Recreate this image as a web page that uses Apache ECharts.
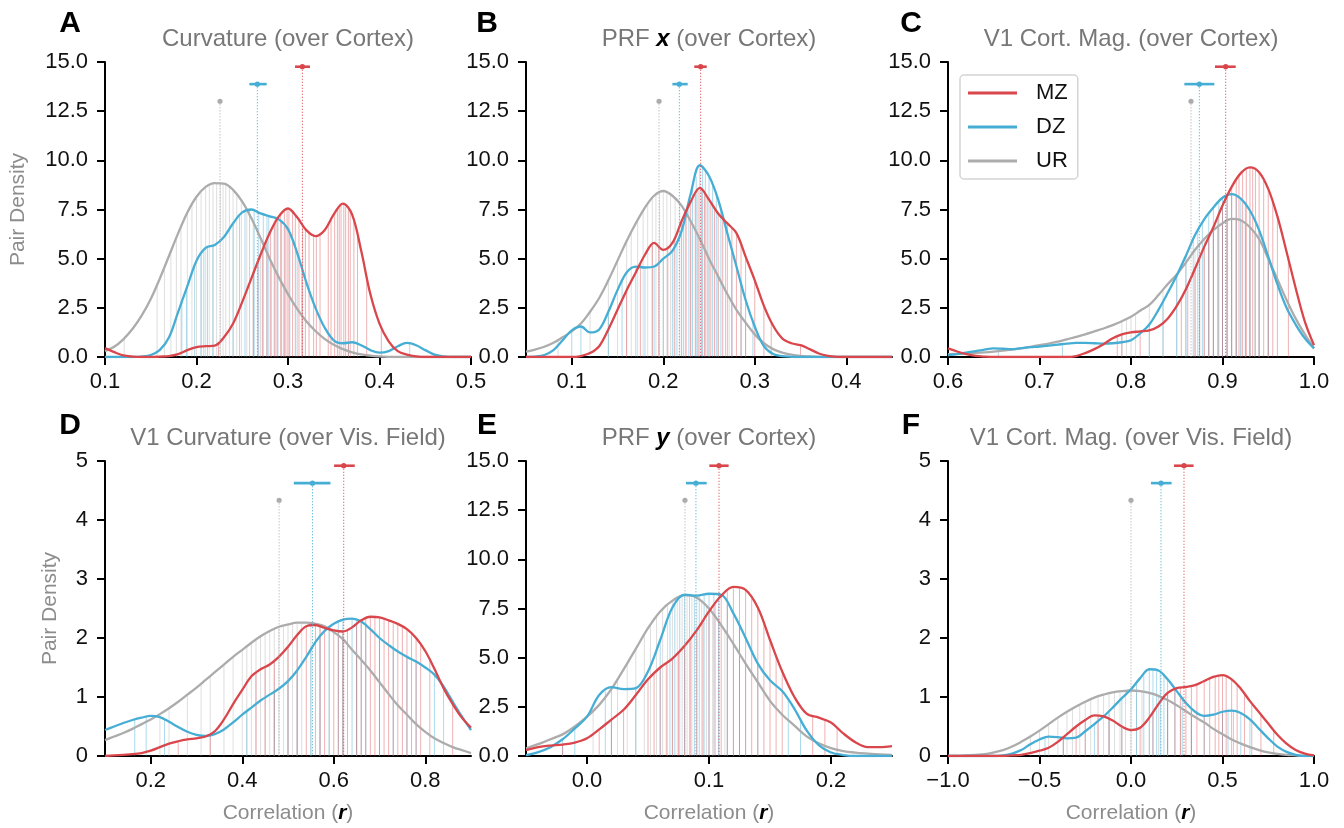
<!DOCTYPE html>
<html><head><meta charset="utf-8">
<script src="https://cdn.jsdelivr.net/npm/echarts@6/dist/echarts.min.js"></script>
<style>html,body{margin:0;padding:0;background:#fff}#c{width:1344px;height:828px}</style>
</head><body><div id="c"></div>
<script>
// ---------------- DATA ----------------
const groups = ['MZ', 'DZ', 'UR'];

// Panel A: Curvature (over Cortex)
const A_x = [0.10,0.11,0.12,0.13,0.14,0.15,0.16,0.17,0.18,0.19,0.20,0.21,0.22,0.23,0.24,0.25,0.26,0.27,0.28,0.29,0.30,0.31,0.32,0.33,0.34,0.35,0.36,0.37,0.38,0.39,0.40,0.41,0.42,0.43,0.44,0.45,0.46,0.47,0.48,0.49,0.50];
const A_MZ = [0.45,0.25,0.08,0.02,0,0,0.02,0.05,0.15,0.35,0.5,0.55,0.58,1.0,1.7,2.8,4.0,5.2,6.3,7.15,7.55,7.1,6.45,6.15,6.45,7.25,7.8,7.25,5.4,3.2,1.7,0.8,0.3,0.12,0.03,0,0,0,0,0,0];
const A_DZ = [0,0,0,0,0.02,0.1,0.36,1.0,2.3,3.6,4.9,5.55,5.7,6.1,6.8,7.35,7.5,7.3,7.15,7.0,6.5,5.3,3.8,2.5,1.5,0.85,0.7,0.75,0.6,0.35,0.22,0.3,0.55,0.72,0.6,0.35,0.12,0.03,0,0,0];
const A_UR = [0.3,0.52,0.9,1.42,2.1,2.95,4.0,5.15,6.3,7.35,8.15,8.65,8.84,8.82,8.5,7.9,7.05,6.05,5.0,4.05,3.2,2.45,1.82,1.32,0.92,0.62,0.4,0.24,0.13,0.07,0.03,0.01,0,0,0,0,0,0,0,0,0];
const A_rugMZ = [0.224,0.262,0.267,0.272,0.277,0.281,0.285,0.288,0.292,0.296,0.299,0.301,0.305,0.308,0.312,0.316,0.319,0.323,0.328,0.331,0.335,0.344,0.347,0.351,0.354,0.356,0.358,0.361,0.363,0.366,0.368,0.372,0.376,0.386,0.402];
const A_rugDZ = [0.184,0.189,0.198,0.205,0.208,0.212,0.218,0.240,0.247,0.253,0.258,0.263,0.268,0.273,0.277,0.279,0.286,0.289,0.293,0.297,0.302,0.310,0.315,0.366,0.433];
const A_rugUR = [0.121,0.157,0.165,0.172,0.178,0.183,0.190,0.195,0.200,0.205,0.210,0.214,0.218,0.222,0.226,0.229,0.232,0.236,0.240,0.244,0.249,0.255,0.262,0.270,0.282,0.295];
const A_means = [[0.3157,0.3077,0.3240],[0.2665,0.2578,0.2767],[0.2257,0.2257,0.2257]];
const A_ticks = [0.1,0.2,0.3,0.4,0.5];

// Panel B: PRF x (over Cortex)
const B_x = [0.05,0.06,0.07,0.08,0.09,0.10,0.11,0.12,0.13,0.14,0.15,0.16,0.17,0.18,0.19,0.20,0.21,0.22,0.23,0.24,0.25,0.26,0.27,0.28,0.29,0.30,0.31,0.32,0.33,0.34,0.35,0.36,0.37,0.38,0.39,0.40,0.41,0.42,0.43,0.44,0.45];
const B_MZ = [0,0,0,0,0,0,0.05,0.2,0.55,1.4,2.4,3.4,4.3,5.2,5.8,5.45,5.8,6.9,7.9,8.6,8.0,7.3,6.8,6.3,5.1,3.9,2.6,1.6,0.95,0.7,0.6,0.4,0.18,0.06,0.01,0,0,0,0,0,0];
const B_DZ = [0,0.02,0.1,0.35,0.85,1.35,1.55,1.25,1.4,2.3,3.4,4.3,4.6,4.55,4.6,5.0,5.4,6.4,8.3,9.75,9.2,8.0,6.3,4.6,2.9,1.55,0.55,0.15,0.04,0.01,0,0,0,0,0,0,0,0,0,0,0];
const B_UR = [0.27,0.38,0.52,0.72,1.0,1.3,1.7,2.3,3.0,3.9,4.9,5.9,6.8,7.6,8.2,8.44,8.2,7.7,6.9,6.0,5.0,4.1,3.2,2.4,1.75,1.15,0.7,0.4,0.22,0.12,0.06,0.03,0.01,0,0,0,0,0,0,0,0];
const B_rugMZ = [0.160,0.175,0.188,0.195,0.205,0.212,0.220,0.225,0.230,0.235,0.238,0.242,0.245,0.248,0.252,0.256,0.260,0.265,0.270,0.275,0.280,0.285,0.290,0.300,0.310,0.318,0.350];
const B_rugDZ = [0.100,0.110,0.140,0.155,0.170,0.180,0.190,0.200,0.210,0.215,0.222,0.228,0.232,0.236,0.240,0.243,0.246,0.250,0.254,0.258,0.263,0.268,0.275,0.285,0.298];
const B_rugUR = [0.085,0.120,0.140,0.150,0.160,0.165,0.172,0.178,0.183,0.188,0.192,0.196,0.200,0.204,0.208,0.213,0.218,0.224,0.230,0.238,0.250,0.260,0.272,0.290];
const B_means = [[0.2409,0.2339,0.2475],[0.2176,0.2100,0.2267],[0.1954,0.1954,0.1954]];
const B_ticks = [0.1,0.2,0.3,0.4];

// Panel C: V1 Cort. Mag. (over Cortex)
const C_x = [0.60,0.61,0.62,0.63,0.64,0.65,0.66,0.67,0.68,0.69,0.70,0.71,0.72,0.73,0.74,0.75,0.76,0.77,0.78,0.79,0.80,0.81,0.82,0.83,0.84,0.85,0.86,0.87,0.88,0.89,0.90,0.91,0.92,0.93,0.94,0.95,0.96,0.97,0.98,0.99,1.00];
const C_MZ = [0.44,0.28,0.15,0.06,0.02,0,0,0,0,0,0,0,0,0,0.05,0.2,0.4,0.65,0.95,1.15,1.25,1.3,1.35,1.55,1.95,2.6,3.45,4.5,5.6,6.6,7.7,8.65,9.35,9.64,9.4,8.55,7.15,5.35,3.5,1.8,0.6];
const C_DZ = [0.1,0.15,0.22,0.3,0.38,0.44,0.42,0.4,0.45,0.5,0.53,0.58,0.63,0.68,0.72,0.72,0.7,0.68,0.7,0.75,0.85,1.2,1.65,2.4,3.25,4.15,5.15,6.2,7.0,7.6,8.1,8.28,8.05,7.45,6.45,5.1,3.7,2.5,1.65,0.95,0.44];
const C_UR = [0.15,0.16,0.18,0.2,0.23,0.27,0.32,0.38,0.44,0.52,0.6,0.68,0.78,0.9,1.02,1.15,1.3,1.45,1.62,1.82,2.05,2.35,2.65,3.15,3.7,4.2,4.8,5.45,6.0,6.45,6.8,7.02,6.95,6.6,6.0,5.0,3.95,2.9,1.95,1.15,0.44];
const C_rugMZ = [0.785,0.790,0.810,0.855,0.862,0.870,0.875,0.880,0.885,0.890,0.895,0.900,0.905,0.910,0.915,0.918,0.922,0.926,0.930,0.933,0.936,0.940,0.945,0.950,0.955,0.960,0.972];
const C_rugDZ = [0.655,0.725,0.820,0.835,0.850,0.860,0.868,0.873,0.878,0.885,0.890,0.896,0.900,0.905,0.910,0.915,0.920,0.925,0.930,0.940,0.950];
const C_rugUR = [0.790,0.795,0.800,0.805,0.820,0.835,0.850,0.860,0.870,0.875,0.880,0.885,0.890,0.895,0.900,0.905,0.910,0.915,0.920,0.925,0.930,0.935,0.940,0.950];
const C_means = [[0.9035,0.8918,0.9144],[0.8747,0.8583,0.8911],[0.8656,0.8656,0.8656]];
const C_ticks = [0.6,0.7,0.8,0.9,1.0];

// Panel D: V1 Curvature (over Vis. Field)
const D_x = [0.10,0.12,0.14,0.16,0.18,0.20,0.22,0.24,0.26,0.28,0.30,0.32,0.34,0.36,0.38,0.40,0.42,0.44,0.46,0.48,0.50,0.52,0.54,0.56,0.58,0.60,0.62,0.64,0.66,0.68,0.70,0.72,0.74,0.76,0.78,0.80,0.82,0.84,0.86,0.88,0.90];
const D_MZ = [0,0.01,0.02,0.03,0.05,0.09,0.15,0.21,0.25,0.28,0.3,0.33,0.42,0.62,0.88,1.12,1.35,1.47,1.55,1.68,1.85,2.05,2.2,2.22,2.17,2.13,2.11,2.18,2.3,2.36,2.35,2.3,2.24,2.15,2.0,1.78,1.48,1.15,0.88,0.65,0.48];
const D_DZ = [0.44,0.5,0.56,0.61,0.65,0.68,0.66,0.58,0.49,0.41,0.36,0.34,0.37,0.45,0.57,0.7,0.82,0.94,1.04,1.14,1.27,1.45,1.68,1.93,2.12,2.24,2.31,2.33,2.28,2.15,2.0,1.88,1.77,1.68,1.6,1.5,1.38,1.18,0.92,0.67,0.44];
const D_UR = [0.27,0.33,0.39,0.46,0.54,0.62,0.71,0.81,0.92,1.04,1.16,1.29,1.42,1.55,1.68,1.8,1.92,2.03,2.12,2.19,2.23,2.26,2.26,2.24,2.2,2.1,1.98,1.8,1.63,1.45,1.25,1.05,0.86,0.7,0.54,0.41,0.3,0.22,0.15,0.1,0.05];
const D_rugMZ = [0.26,0.33,0.43,0.45,0.47,0.50,0.52,0.54,0.56,0.57,0.58,0.60,0.61,0.62,0.63,0.65,0.66,0.67,0.68,0.69,0.70,0.71,0.72,0.73,0.74,0.75,0.76,0.77,0.78,0.79,0.81,0.86];
const D_rugDZ = [0.165,0.19,0.23,0.41,0.47,0.50,0.52,0.55,0.57,0.59,0.61,0.62,0.64,0.65,0.66,0.67,0.70,0.73,0.76,0.78,0.82,0.84];
const D_rugUR = [0.22,0.24,0.28,0.31,0.33,0.36,0.38,0.40,0.41,0.42,0.43,0.44,0.45,0.46,0.47,0.48,0.49,0.50,0.51,0.52,0.53,0.55,0.57,0.59,0.62,0.65];
const D_means = [[0.6218,0.6007,0.6459],[0.5535,0.5127,0.5928],[0.4806,0.4806,0.4806]];
const D_ticks = [0.2,0.4,0.6,0.8];

// Panel E: PRF y (over Cortex)
const E_x = [-0.05,-0.04,-0.03,-0.02,-0.01,0.00,0.01,0.02,0.03,0.04,0.05,0.06,0.07,0.08,0.09,0.10,0.11,0.12,0.13,0.14,0.15,0.16,0.17,0.18,0.19,0.20,0.21,0.22,0.23,0.24,0.25];
const E_MZ = [0.3,0.45,0.53,0.58,0.68,0.9,1.35,1.85,2.35,3.1,3.9,4.5,4.95,5.6,6.4,7.35,8.15,8.6,8.45,7.55,5.9,4.3,3.0,2.15,1.95,1.7,1.15,0.7,0.45,0.45,0.5];
const E_DZ = [0.05,0.2,0.45,0.85,1.4,2.0,3.1,3.5,3.4,3.45,4.3,5.9,7.55,8.2,8.15,8.25,8.2,7.25,6.0,4.7,3.85,3.3,2.4,1.3,0.55,0.18,0.05,0,0,0,0];
const E_UR = [0.39,0.6,0.85,1.1,1.5,2.0,2.6,3.4,4.4,5.45,6.5,7.35,7.9,8.18,8.05,7.5,6.65,5.7,4.7,3.75,2.8,2.1,1.55,1.0,0.65,0.4,0.25,0.17,0.12,0.08,0.06];
const E_rugMZ = [-0.02,0.01,0.02,0.03,0.05,0.055,0.06,0.065,0.07,0.075,0.08,0.085,0.09,0.095,0.10,0.105,0.11,0.115,0.12,0.125,0.13,0.135,0.14,0.145,0.15,0.155,0.16,0.185,0.195,0.205];
const E_rugDZ = [-0.02,-0.01,0.015,0.02,0.04,0.06,0.068,0.072,0.076,0.08,0.084,0.088,0.092,0.096,0.10,0.104,0.108,0.115,0.125,0.14,0.165,0.175];
const E_rugUR = [0.005,0.025,0.033,0.04,0.047,0.052,0.057,0.062,0.066,0.07,0.074,0.078,0.082,0.086,0.09,0.094,0.098,0.103,0.108,0.113,0.12,0.13];
const E_means = [[0.1082,0.1003,0.1161],[0.0893,0.0811,0.0981],[0.0803,0.0803,0.0803]];
const E_ticks = [0.0,0.1,0.2];

// Panel F: V1 Cort. Mag. (over Vis. Field)
const F_x = [-1.0,-0.95,-0.9,-0.85,-0.8,-0.75,-0.7,-0.65,-0.6,-0.55,-0.5,-0.45,-0.4,-0.35,-0.3,-0.25,-0.2,-0.15,-0.1,-0.05,0.0,0.05,0.1,0.15,0.2,0.25,0.3,0.35,0.4,0.45,0.5,0.55,0.6,0.65,0.7,0.75,0.8,0.85,0.9,0.95,1.0];
const F_MZ = [0,0,0,0,0,0,0,0.01,0.02,0.05,0.09,0.14,0.24,0.37,0.5,0.61,0.69,0.67,0.6,0.5,0.44,0.48,0.65,0.88,1.07,1.15,1.17,1.2,1.27,1.34,1.37,1.3,1.14,0.93,0.74,0.55,0.36,0.21,0.1,0.04,0.01];
const F_DZ = [0,0,0,0,0,0,0.01,0.04,0.1,0.2,0.28,0.33,0.32,0.3,0.31,0.42,0.54,0.67,0.82,0.98,1.13,1.32,1.47,1.45,1.3,1.1,0.9,0.75,0.68,0.7,0.75,0.77,0.73,0.62,0.46,0.3,0.16,0.07,0.02,0,0];
const F_UR = [0,0,0.01,0.02,0.03,0.06,0.1,0.16,0.24,0.33,0.43,0.54,0.65,0.75,0.84,0.92,0.99,1.04,1.08,1.1,1.11,1.1,1.07,1.02,0.95,0.86,0.76,0.66,0.57,0.46,0.37,0.28,0.21,0.15,0.1,0.06,0.035,0.02,0.01,0,0];
const F_rugMZ = [-0.37,-0.30,-0.25,-0.18,-0.12,-0.05,0.05,0.12,0.20,0.24,0.27,0.30,0.33,0.36,0.40,0.43,0.46,0.48,0.50,0.52,0.55,0.58,0.62,0.66,0.71,0.78];
const F_rugDZ = [-0.47,-0.37,-0.20,-0.12,-0.05,0.03,0.07,0.10,0.12,0.14,0.16,0.18,0.20,0.24,0.28,0.33,0.40,0.50,0.53,0.56,0.60,0.65];
const F_rugUR = [-0.55,-0.50,-0.45,-0.40,-0.35,-0.32,-0.28,-0.25,-0.22,-0.18,-0.15,-0.12,-0.09,-0.06,-0.03,0.0,0.03,0.06,0.10,0.15,0.20,0.27,0.33];
const F_means = [[0.2896,0.235,0.342],[0.164,0.109,0.222],[0.0,0.0,0.0]];
const F_ticks = [-1.0,-0.5,0.0,0.5,1.0];

const titles = [
  {letter:'A', parts:[['n','Curvature (over Cortex)']]},
  {letter:'B', parts:[['n','PRF '],['b','x'],['n',' (over Cortex)']]},
  {letter:'C', parts:[['n','V1 Cort. Mag. (over Cortex)']]},
  {letter:'D', parts:[['n','V1 Curvature (over Vis. Field)']]},
  {letter:'E', parts:[['n','PRF '],['b','y'],['n',' (over Cortex)']]},
  {letter:'F', parts:[['n','V1 Cort. Mag. (over Vis. Field)']]}
];

// ---------------- STYLE / LAYOUT ----------------
const FONT = '"Liberation Sans", Arial, Helvetica, sans-serif';
const COL = {MZ:'#d9464b', DZ:'#46aed4', UR:'#acacac'};
const RUGCOL = {MZ:'rgba(217,70,75,0.42)', DZ:'rgba(70,174,212,0.45)', UR:'rgba(172,172,172,0.4)'};
const MARK_FRAC = {MZ:0.984, DZ:0.925, UR:0.867};
const LEFTS = [105, 526, 948], TOPS = [62, 461], W = 366, H = 295;

const panels = [
  {x:A_x, y:{MZ:A_MZ,DZ:A_DZ,UR:A_UR}, rug:{MZ:A_rugMZ,DZ:A_rugDZ,UR:A_rugUR}, means:A_means, ticks:A_ticks, ymax:15},
  {x:B_x, y:{MZ:B_MZ,DZ:B_DZ,UR:B_UR}, rug:{MZ:B_rugMZ,DZ:B_rugDZ,UR:B_rugUR}, means:B_means, ticks:B_ticks, ymax:15},
  {x:C_x, y:{MZ:C_MZ,DZ:C_DZ,UR:C_UR}, rug:{MZ:C_rugMZ,DZ:C_rugDZ,UR:C_rugUR}, means:C_means, ticks:C_ticks, ymax:15},
  {x:D_x, y:{MZ:D_MZ,DZ:D_DZ,UR:D_UR}, rug:{MZ:D_rugMZ,DZ:D_rugDZ,UR:D_rugUR}, means:D_means, ticks:D_ticks, ymax:5},
  {x:E_x, y:{MZ:E_MZ,DZ:E_DZ,UR:E_UR}, rug:{MZ:E_rugMZ,DZ:E_rugDZ,UR:E_rugUR}, means:E_means, ticks:E_ticks, ymax:15},
  {x:F_x, y:{MZ:F_MZ,DZ:F_DZ,UR:F_UR}, rug:{MZ:F_rugMZ,DZ:F_rugDZ,UR:F_rugUR}, means:F_means, ticks:F_ticks, ymax:5}
];

function curveAt(xs, ys, v) {
  for (let i = 0; i < xs.length - 1; i++) {
    if (v >= xs[i] && v <= xs[i+1]) {
      const t = (v - xs[i]) / (xs[i+1] - xs[i]);
      return ys[i] + t * (ys[i+1] - ys[i]);
    }
  }
  return 0;
}
function fmtX(v) {
  const s = Math.abs(v).toFixed(1);
  return v < -1e-9 ? '\u2212' + s : s;
}

const grid = [], xAxis = [], yAxis = [], series = [], title = [];
const richN = {fontSize:24, color:'#777', fontWeight:'normal', fontFamily:FONT};
const richB = {fontSize:24, color:'#000', fontWeight:'bold', fontStyle:'italic', fontFamily:FONT};

panels.forEach((p, i) => {
  const row = Math.floor(i / 3), col = i % 3;
  const left = LEFTS[col], top = TOPS[row];
  grid.push({left:left, top:top, width:W, height:H, containLabel:false});
  const xa = {
    gridIndex:i, type:'value', min:p.x[0], max:p.x[p.x.length-1],
    axisLine:{show:true, onZero:false, lineStyle:{color:'#000', width:2}},
    axisTick:{show:true, length:8, customValues:p.ticks, lineStyle:{color:'#000', width:2}},
    axisLabel:{show:true, customValues:p.ticks, formatter:fmtX, fontSize:22, color:'#111', fontFamily:FONT, margin:14},
    splitLine:{show:false}
  };
  if (row === 1) {
    xa.name = '{n|Correlation (}{b|r}{n|)}';
    xa.nameLocation = 'middle';
    xa.nameGap = 47;
    xa.nameTextStyle = {rich:{n:{fontSize:21, color:'#8c8c8c', fontWeight:'normal', fontFamily:FONT}, b:{fontSize:21, color:'#000', fontWeight:'bold', fontStyle:'italic', fontFamily:FONT}}};
  }
  xAxis.push(xa);
  const ya = {
    gridIndex:i, type:'value', min:0, max:p.ymax, interval:(p.ymax === 15 ? 2.5 : 1),
    axisLine:{show:true, onZero:false, lineStyle:{color:'#000', width:2}},
    axisTick:{show:true, length:8, lineStyle:{color:'#000', width:2}},
    axisLabel:{show:true, fontSize:22, color:'#111', fontFamily:FONT, margin:17,
      formatter:(v) => p.ymax === 15 ? v.toFixed(1) : String(Math.round(v))},
    splitLine:{show:false}
  };
  if (col === 0) {
    ya.name = 'Pair Density';
    ya.nameLocation = 'middle';
    ya.nameGap = (row === 0 ? 76 : 44);
    ya.nameTextStyle = {fontSize:21, color:'#8c8c8c', fontWeight:'normal', fontFamily:FONT};
  }
  yAxis.push(ya);

  // rug lines (under curves)
  ['UR','DZ','MZ'].forEach(g => {
    const data = p.rug[g].map(v => [v, curveAt(p.x, p.y[g], v)]);
    series.push({
      type:'custom', name:g + ' rug', xAxisIndex:i, yAxisIndex:i, z:1, clip:true, silent:true,
      encode:{x:0, y:1},
      data:data,
      renderItem:(params, api) => {
        const a = api.coord([api.value(0), 0]);
        const b = api.coord([api.value(0), api.value(1)]);
        return {type:'line', shape:{x1:a[0], y1:a[1], x2:b[0], y2:b[1]}, style:{stroke:RUGCOL[g], lineWidth:1}};
      }
    });
  });
  // KDE curves
  ['UR','DZ','MZ'].forEach(g => {
    series.push({
      type:'line', name:g, xAxisIndex:i, yAxisIndex:i, z:3,
      data:p.x.map((v, k) => [v, p.y[g][k]]),
      smooth:0.35, showSymbol:false, symbol:'none', silent:true,
      color:COL[g],
      itemStyle:{color:COL[g]},
      lineStyle:{color:COL[g], width:2.3}
    });
  });
  // mean markers with CI
  ['UR','DZ','MZ'].forEach(g => {
    const m = p.means[groups.indexOf(g)];
    const h = MARK_FRAC[g] * p.ymax;
    series.push({
      type:'custom', name:g + ' mean', xAxisIndex:i, yAxisIndex:i, z:4, clip:false, silent:true,
      encode:{x:[0,1,2], y:3},
      data:[[m[0], m[1], m[2], h]],
      renderItem:(params, api) => {
        const pm = api.coord([api.value(0), api.value(3)]);
        const p0 = api.coord([api.value(0), 0]);
        const pl = api.coord([api.value(1), api.value(3)]);
        const ph = api.coord([api.value(2), api.value(3)]);
        return {type:'group', children:[
          {type:'line', shape:{x1:pm[0], y1:pm[1], x2:p0[0], y2:p0[1]}, style:{stroke:COL[g], lineWidth:1, lineDash:[1.2,1.8], opacity:0.9}},
          {type:'line', shape:{x1:pl[0], y1:pl[1], x2:ph[0], y2:ph[1]}, style:{stroke:COL[g], lineWidth:2.6}},
          {type:'circle', shape:{cx:pm[0], cy:pm[1], r:2.6}, style:{fill:COL[g]}}
        ]};
      }
    });
  });

  // titles
  const t = titles[i];
  title.push({
    text:'{L|' + t.letter + '}', left:[70, 487, 911][col], top:(row === 0 ? 24 : 426),
    textAlign:'center', textVerticalAlign:'middle', padding:0,
    textStyle:{rich:{L:{fontSize:30, fontWeight:'bold', color:'#000', fontFamily:FONT}}}
  });
  title.push({
    text:t.parts.map(pp => '{' + pp[0] + '|' + pp[1] + '}').join(''),
    left:left + W / 2, top:(row === 0 ? 39 : 438),
    textAlign:'center', textVerticalAlign:'middle', padding:0,
    textStyle:{fontWeight:'normal', rich:{n:richN, b:richB}}
  });
});

const chart = echarts.init(document.getElementById('c'), null, {renderer:'canvas'});
chart.setOption({
  backgroundColor:'#fff',
  animation:false,
  title:title,
  grid:grid, xAxis:xAxis, yAxis:yAxis,
  legend:{
    data:[{name:'MZ'},{name:'DZ'},{name:'UR'}],
    left:960, top:75, orient:'vertical', icon:'rect',
    itemWidth:49, itemHeight:3, itemGap:12,
    padding:[7,10,7,8],
    borderColor:'#d4d4d4', borderWidth:1.5, borderRadius:4, backgroundColor:'#fff',
    selectedMode:false,
    textStyle:{fontSize:22, color:'#111', fontFamily:FONT, padding:[0,0,0,14]}
  },
  series:series
});
</script>
</body></html>
